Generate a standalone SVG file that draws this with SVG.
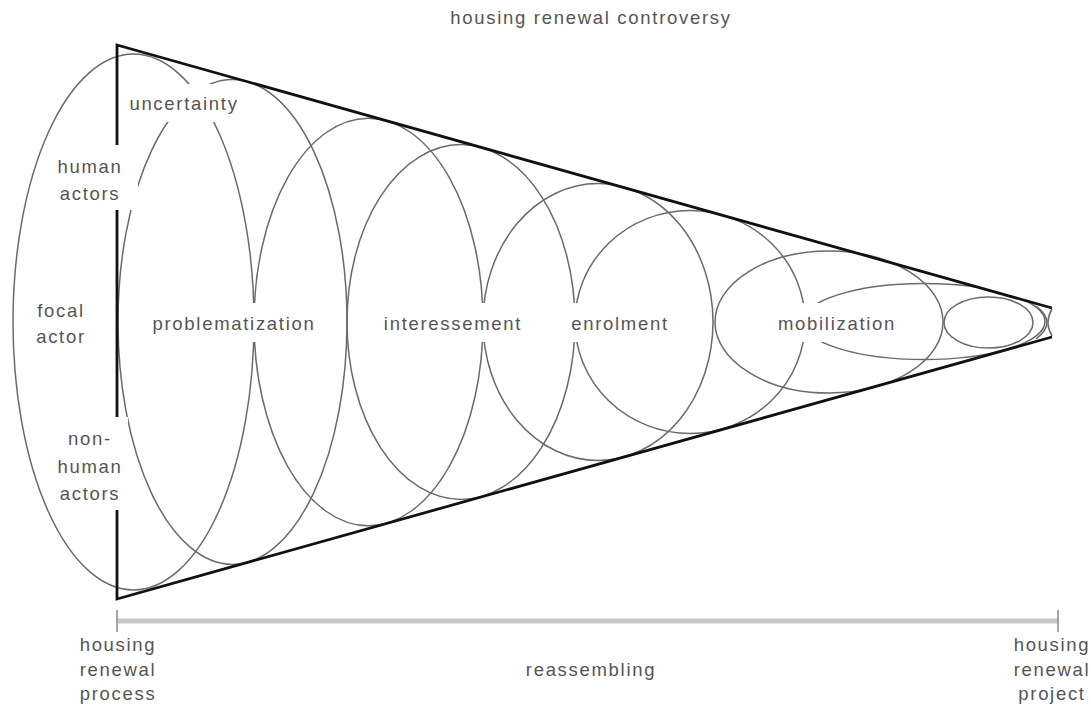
<svg xmlns="http://www.w3.org/2000/svg" width="1091" height="711" viewBox="0 0 1091 711">
<style>
  .bg { fill: #ffffff; }
  .ell { fill: none; stroke: #6a6a6a; stroke-width: 1.5; }
  .tri { fill: none; stroke: #111111; stroke-width: 2.8; stroke-linejoin: miter; }
  .mask { fill: #ffffff; stroke: none; }
  .lbl { font-family: "Liberation Sans", Arial, Helvetica, sans-serif; font-size: 18.5px; fill: #555555; letter-spacing: 1.7px; text-anchor: middle; }
  .axis { stroke: #c9c9c9; stroke-width: 5; fill: none; }
  .tick { stroke: #8a8a8a; stroke-width: 1.5; fill: none; }
</style>
<defs>
  <clipPath id="triClip">
    <polygon points="117,45 1052,308 1052,337 117,599"/>
  </clipPath>
</defs>
<rect class="bg" x="0" y="0" width="1091" height="711"/>

<g id="ellipses">
  <ellipse id="e0" class="ell" cx="133.5" cy="322" rx="120.5" ry="268"/>
  <ellipse id="e1" class="ell" cx="232.5" cy="322" rx="114.5" ry="242.4"/>
  <ellipse id="e2" class="ell" cx="368.5" cy="322" rx="114.5" ry="203.8"/>
  <ellipse id="e3" class="ell" cx="461" cy="322" rx="114" ry="177.4"/>
  <ellipse id="e4" class="ell" cx="598" cy="322" rx="115" ry="138.5"/>
  <ellipse id="e5" class="ell" cx="690" cy="322" rx="115" ry="111.4"/>
  <ellipse id="m1" class="ell" cx="829" cy="322" rx="114" ry="71"/>
  <ellipse id="m2" class="ell" cx="924" cy="321.5" rx="121" ry="38" clip-path="url(#triClip)"/>
  <ellipse id="m3" class="ell" cx="988.5" cy="322.5" rx="44.5" ry="25.5"/>
  <path id="tip1" class="ell" d="M1036,306 Q1058,322.5 1036,339"/>
  <path id="tip2" class="ell" d="M1052,309 Q1044,322.5 1052,336"/>
</g>

<g id="connectors">
  <path class="tri" d="M117,145 L117,45 L1052,308"/>
  <path class="tri" d="M117,510 L117,599 L1052,337"/>
  <path class="tri" d="M117,210 L117,418"/>
</g>

<g id="text-masks">
  <rect class="mask" x="120" y="84" width="125" height="38"/>
  <rect class="mask" x="50" y="147" width="88" height="63"/>
  <rect class="mask" x="50" y="417" width="78" height="93"/>
  <rect class="mask" x="148" y="303" width="170" height="39"/>
  <rect class="mask" x="378" y="303" width="147" height="39"/>
  <rect class="mask" x="565" y="303" width="108" height="39"/>
  <rect class="mask" x="772" y="303" width="127" height="39"/>
</g>

<g id="axis">
  <line class="axis" x1="117" y1="621" x2="1058" y2="621"/>
  <line class="tick" x1="117" y1="610" x2="117" y2="632"/>
  <line class="tick" x1="1058" y1="610" x2="1058" y2="632"/>
</g>

<g id="title"><text class="lbl" x="591" y="24">housing renewal controversy</text></g>
<g id="uncertainty"><text class="lbl" x="184" y="110">uncertainty</text></g>
<g id="human-actors"><text class="lbl" x="90" y="173">human</text><text class="lbl" x="90" y="200">actors</text></g>
<g id="focal-actor"><text class="lbl" x="61" y="317">focal</text><text class="lbl" x="61" y="343">actor</text></g>
<g id="nonhuman-actors"><text class="lbl" x="90" y="445">non-</text><text class="lbl" x="90" y="473">human</text><text class="lbl" x="90" y="500">actors</text></g>
<g id="problematization"><text class="lbl" x="234" y="330">problematization</text></g>
<g id="interessement"><text class="lbl" x="453" y="330">interessement</text></g>
<g id="enrolment"><text class="lbl" x="620" y="330">enrolment</text></g>
<g id="mobilization"><text class="lbl" x="837" y="330">mobilization</text></g>
<g id="process"><text class="lbl" x="118" y="651">housing</text><text class="lbl" x="118" y="676">renewal</text><text class="lbl" x="118" y="700">process</text></g>
<g id="reassembling"><text class="lbl" x="591" y="676">reassembling</text></g>
<g id="project"><text class="lbl" x="1052" y="651">housing</text><text class="lbl" x="1052" y="676">renewal</text><text class="lbl" x="1052" y="700">project</text></g>
</svg>
